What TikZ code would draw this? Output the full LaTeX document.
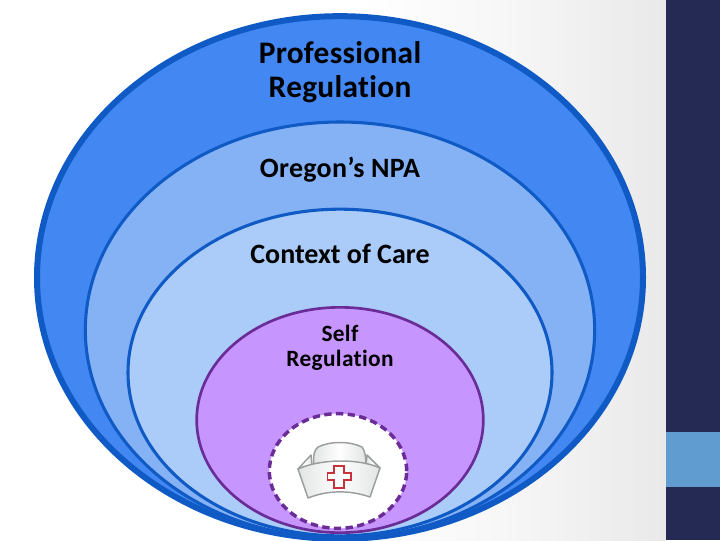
\documentclass[tikz,border=0pt]{standalone}
\usepackage{fontspec}
\setmainfont[Ligatures=NoCommon]{Carlito}
\usetikzlibrary{shapes.geometric}
\definecolor{navy}{HTML}{252A55}
\definecolor{steel}{HTML}{619CD0}
\definecolor{edgeblue}{HTML}{0F5AC4}
\definecolor{ringa}{HTML}{4287F2}
\definecolor{ringb}{HTML}{85B2F4}
\definecolor{ringc}{HTML}{ABCBF8}
\definecolor{lilac}{HTML}{C795FE}
\definecolor{plum}{HTML}{6A2C96}
\definecolor{capred}{HTML}{C8323C}
\definecolor{capgrey}{HTML}{9A9E9E}
\definecolor{bgmid}{HTML}{F7F7F7}
\definecolor{bgend}{HTML}{E9E9E9}
\definecolor{capshade}{HTML}{E2E4E4}
\pgfdeclarehorizontalshading{bggrad}{100bp}{color(0bp)=(white); color(52bp)=(white); color(62.5bp)=(bgmid); color(75bp)=(bgend); color(100bp)=(bgend)}
\tikzset{
  x=0.75pt,y=-0.75pt,
  ring/.style={ellipse,draw=edgeblue,inner sep=0pt,outer sep=0pt},
  huge/.style={font=\fontsize{23.5}{25.5}\selectfont\bfseries\addfontfeatures{LetterSpace=1},align=center,text=black,inner sep=0pt},
  big/.style={font=\fontsize{21}{25.5}\selectfont\bfseries,align=center,text=black,inner sep=0pt},
  small/.style={font=\fontsize{17.5}{18.8}\selectfont\bfseries\addfontfeatures{LetterSpace=1.5},align=center,text=black,inner sep=0pt},
  capline/.style={draw=capgrey,line width=1.1pt,left color=capshade,right color=capshade,middle color=white,line join=round},
}
\begin{document}
\begin{tikzpicture}
\useasboundingbox (0,0) rectangle (720,540);
\shade[shading=bggrad] (0,0) rectangle (666,540);
\fill[navy] (666,0) rectangle (720,540);
\fill[steel] (666,432) rectangle (720,487);
\clip (0,0) rectangle (720,540);
\node[ring,fill=ringa,line width=4.5pt,minimum width=454.5pt,minimum height=392pt] (outer) at (340,277.5) {};
\node[ring,fill=ringb,line width=2.3pt,minimum width=382pt,minimum height=312pt] (second) at (340,330) {};
\node[ring,fill=ringc,line width=2.3pt,minimum width=318pt,minimum height=245pt] (third) at (340,372.5) {};
\node[ring,draw=plum,fill=lilac,line width=2pt,minimum width=215pt,minimum height=169pt] (self) at (340,420) {};
\node[ring,draw=plum,fill=white,line width=2.6pt,dash pattern=on 5.5pt off 3.3pt,minimum width=103pt,minimum height=86pt] (core) at (338,471) {};
\node[huge] (t1) at (340,72) {Professional\\Regulation};
\node[big] (t2) at (340,169.5) {\addfontfeatures{LetterSpace=1}Oregon’s NPA};
\node[big] (t3) at (340,254) {Context of Care};
\node[small] (t4) at (340,348) {Self\\Regulation};
% nurse cap
\path[capline] (314,465) .. controls (313,456) and (314,450) .. (318,447) .. controls (330,441) and (350,441) .. (362,447) .. controls (365,451) and (366,457) .. (366,465) -- cycle;
\path[capline] (298,469) -- (311,455) -- (312,465) -- cycle;
\path[capline] (380,468) -- (367,455) -- (366,465) -- cycle;
\path[capline] (298,469) .. controls (320,459) and (358,458) .. (380,468) -- (370,497) .. controls (350,490) and (328,490) .. (308,498) -- cycle;
\path[draw=capred,line width=1.1pt,fill=white,line join=miter]
  (334,466) -- (344,466) -- (344,473) -- (351,473) -- (351,480) -- (344,480) -- (344,488) -- (334,488) -- (334,480) -- (327.5,480) -- (327.5,473) -- (334,473) -- cycle;
\end{tikzpicture}
\end{document}
